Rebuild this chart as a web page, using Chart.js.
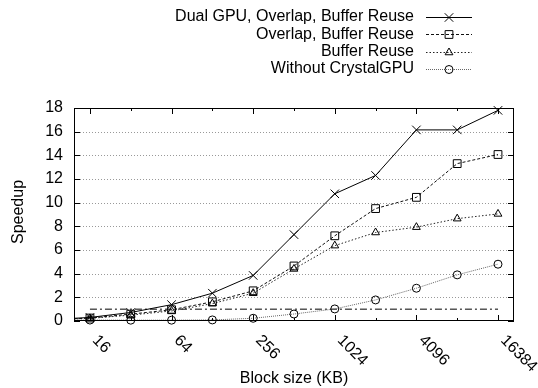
<!DOCTYPE html>
<html>
<head>
<meta charset="utf-8">
<script src="https://cdn.jsdelivr.net/npm/chart.js@4/dist/chart.umd.min.js"></script>
<style>
  body { margin:0; background:#fff; }
  #wrap { width:538px; height:388px; }
</style>
</head>
<body>
<div id="wrap"><canvas id="speedChart" width="538" height="388"></canvas></div>
<script>
// Data
const blockSizes  = [8, 16, 32, 64, 128, 256, 512, 1024, 2048, 4096, 8192, 16384];
const dualGpu     = [0.12, 0.3, 0.72, 1.38, 2.35, 3.85, 7.3, 10.75, 12.3, 16.15, 16.15, 17.8];
const overlapBuf  = [0.1, 0.25, 0.58, 0.95, 1.62, 2.55, 4.65, 7.2, 9.5, 10.45, 13.3, 14.07];
const bufferReuse = [0.1, 0.22, 0.5, 0.85, 1.47, 2.35, 4.4, 6.37, 7.48, 7.93, 8.65, 9.05];
const withoutGpu  = [0.02, 0.08, 0.07, 0.07, 0.09, 0.23, 0.59, 1.02, 1.78, 2.77, 3.9, 4.8];
const baselineX   = [16, 16384];
const baselineY   = [1, 1];

const seriesNames = ['Dual GPU, Overlap, Buffer Reuse', 'Overlap, Buffer Reuse', 'Buffer Reuse', 'Without CrystalGPU'];
const xMajorTicks = [16, 64, 256, 1024, 4096, 16384];
const xMinorTicks = [32, 128, 512, 2048, 8192];
const yTicks      = [0, 2, 4, 6, 8, 10, 12, 14, 16, 18];

const FONT = '16px "Liberation Sans", Arial, sans-serif';
const pts = (xs, ys) => xs.map((x, i) => ({ x, y: ys[i] }));
const clipBox = { left: 0, top: 8, right: 8, bottom: 8 };

// Series styles
const styles = [
  { dash: [],       color: '#000', marker: 'crossRot', r: 6 },
  { dash: [3, 2],   color: '#111', marker: 'rect',     r: 5.5 },
  { dash: [1.5, 2], color: '#222', marker: 'triangle', r: 4.5 },
  { dash: [1, 1],   color: '#666', marker: 'circle',   r: 4 }
];
const seriesData = [dualGpu, overlapBuf, bufferReuse, withoutGpu];

const datasets = seriesData.map((vals, i) => ({
  label: seriesNames[i],
  data: pts(blockSizes, vals),
  borderColor: styles[i].color,
  borderWidth: 1,
  borderDash: styles[i].dash,
  pointStyle: styles[i].marker,
  pointRadius: styles[i].r,
  pointBorderColor: '#000',
  pointBorderWidth: 1,
  pointBackgroundColor: 'rgba(0,0,0,0)',
  tension: 0,
  clip: clipBox
}));
datasets.push({
  label: 'baseline',
  data: pts(baselineX, baselineY),
  borderColor: '#000',
  borderWidth: 1,
  borderDash: [7, 3, 2, 3],
  pointRadius: 0,
  clip: clipBox
});

// Legend marker
function marker(ctx, style, x, y, r) {
  ctx.beginPath();
  if (style === 'crossRot') {
    const d = r * Math.SQRT1_2;
    ctx.moveTo(x - d, y - d); ctx.lineTo(x + d, y + d);
    ctx.moveTo(x - d, y + d); ctx.lineTo(x + d, y - d);
  } else if (style === 'rect') {
    const s = r * Math.SQRT1_2;
    ctx.rect(x - s, y - s, 2 * s, 2 * s);
  } else if (style === 'triangle') {
    ctx.moveTo(x, y - r);
    ctx.lineTo(x + r * 0.866, y + r * 0.5);
    ctx.lineTo(x - r * 0.866, y + r * 0.5);
    ctx.closePath();
  } else {
    ctx.arc(x, y, r, 0, Math.PI * 2);
  }
  ctx.stroke();
}

const gnuFrame = {
  id: 'gnuFrame',
  beforeDatasetsDraw(chart) {
    const { ctx, chartArea: a, scales: { y } } = chart;
    ctx.save();
    ctx.strokeStyle = '#999';
    ctx.lineWidth = 1;
    ctx.setLineDash([1, 2]);
    yTicks.forEach(v => {
      if (v === 0 || v === 18) return;
      const py = Math.round(y.getPixelForValue(v)) + 0.5;
      ctx.beginPath(); ctx.moveTo(a.left, py); ctx.lineTo(a.right, py); ctx.stroke();
    });
    ctx.restore();
  },
  afterDatasetsDraw(chart) {
    const { ctx, chartArea: a, scales: { x, y } } = chart;
    ctx.save();
    ctx.strokeStyle = '#000';
    ctx.lineWidth = 1;
    ctx.setLineDash([]);
    // frame
    ctx.strokeRect(a.left + 0.5, a.top + 0.5, a.right - a.left - 1, a.bottom - a.top - 1);
    // x ticks (inward, top and bottom)
    const xt = (v, len) => {
      const px = Math.round(x.getPixelForValue(v)) + 0.5;
      ctx.beginPath();
      ctx.moveTo(px, a.bottom); ctx.lineTo(px, a.bottom - len);
      ctx.moveTo(px, a.top); ctx.lineTo(px, a.top + len);
      ctx.stroke();
    };
    xMajorTicks.forEach(v => xt(v, 6));
    xMinorTicks.forEach(v => xt(v, 3));
    // y ticks
    yTicks.forEach(v => {
      const py = Math.round(y.getPixelForValue(v)) + 0.5;
      ctx.beginPath();
      ctx.moveTo(a.left, py); ctx.lineTo(a.left + 6, py);
      ctx.moveTo(a.right, py); ctx.lineTo(a.right - 6, py);
      ctx.stroke();
    });

    ctx.fillStyle = '#000';
    ctx.font = FONT;
    // y labels
    ctx.textAlign = 'right';
    ctx.textBaseline = 'middle';
    yTicks.forEach(v => ctx.fillText(String(v), 63, y.getPixelForValue(v)));
    // x labels, rotated clockwise 45deg
    ctx.textAlign = 'left';
    xMajorTicks.forEach(v => {
      ctx.save();
      ctx.translate(x.getPixelForValue(v) + 5, 338);
      ctx.rotate(Math.PI / 4);
      ctx.fillText(String(v), 0, 0);
      ctx.restore();
    });
    // axis titles
    ctx.textAlign = 'center';
    ctx.fillText('Block size (KB)', 294, 379);
    ctx.save();
    ctx.translate(19, 212);
    ctx.rotate(-Math.PI / 2);
    ctx.fillText('Speedup', 0, 0);
    ctx.restore();

    // legend
    const rows = [17, 34.3, 51.6, 69];
    seriesNames.forEach((name, i) => {
      const ry = rows[i];
      ctx.textAlign = 'right';
      ctx.fillStyle = '#000';
      ctx.fillText(name, 414, ry);
      ctx.strokeStyle = styles[i].color;
      ctx.setLineDash(styles[i].dash);
      ctx.beginPath(); ctx.moveTo(426, Math.round(ry) + 0.5); ctx.lineTo(472, Math.round(ry) + 0.5); ctx.stroke();
      ctx.setLineDash([]);
      ctx.strokeStyle = '#000';
      marker(ctx, styles[i].marker, 449, Math.round(ry) + 0.5, styles[i].r);
    });
    ctx.restore();
  }
};

new Chart(document.getElementById('speedChart').getContext('2d'), {
  type: 'line',
  data: { datasets },
  options: {
    responsive: false,
    animation: false,
    layout: { padding: { left: 74, right: 24, top: 108, bottom: 67 } },
    plugins: { legend: { display: false }, tooltip: { enabled: false } },
    scales: {
      x: { type: 'logarithmic', min: 12.2, max: 21500, display: false },
      y: { type: 'linear', min: 0, max: 18, display: false }
    }
  },
  plugins: [gnuFrame]
});
</script>
</body>
</html>
